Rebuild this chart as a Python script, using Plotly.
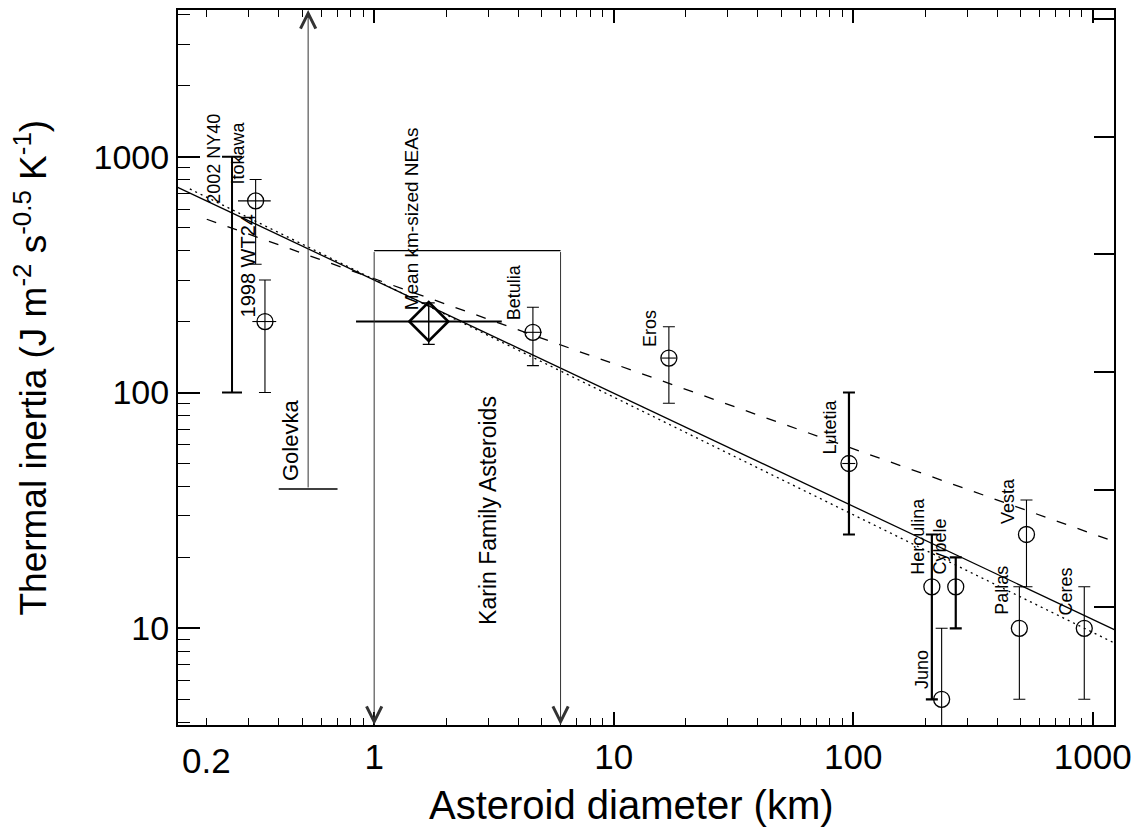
import math
import plotly.graph_objects as go

FONT = "Liberation Sans, Arial, Helvetica, sans-serif"

# ---------------- data ----------------
# asteroids plotted as open circles: diameter (km) and thermal inertia (J m^-2 s^-0.5 K^-1)
ast_names = ["Itokawa", "1998 WT24", "Betulia", "Eros", "Lutetia",
             "Herculina", "Cybele", "Juno", "Pallas", "Vesta", "Ceres"]
ast_diam = [0.32, 0.35, 4.6, 17.0, 96.0, 213.0, 268.0, 234.0, 494.0, 529.0, 922.0]
ast_diam_err = [0.05, 0.04, 0.4, 1.2, 6.0, 0, 0, 0, 0, 0, 0]
ast_gamma = [650, 200, 180, 140, 50, 15, 15, 5, 10, 25, 10]
ast_gamma_hi = [800, 300, 230, 190, 100, 25, 20, 10, 15, 35, 15]
ast_gamma_lo = [350, 100, 130, 90, 25, 5, 10, 0.1, 5, 15, 5]
ast_bold = [False, False, False, False, True, True, True, False, False, False, False]

# 2002 NY40: range only
ny40_diam = 0.255
ny40_range = [100, 1000]

# Golevka: lower limit
golevka_diam = 0.53
golevka_min = 39

# mean of km-sized NEAs
nea_diam, nea_diam_lo, nea_diam_hi = 1.69, 0.84, 3.41
nea_gamma, nea_gamma_lo, nea_gamma_hi = 200, 160, 240

# Karin family: diameter range and upper limit of thermal inertia
karin_diam = [1.0, 6.0]
karin_max = 400

# power-law fits (end points)
fit_solid_d, fit_solid_g = [0.15, 1250], [745, 9.8]
fit_dashed_d, fit_dashed_g = [0.2, 1250], [543, 23.2]
fit_dotted_d, fit_dotted_g = [0.17, 1250], [730, 8.6]

# axis ranges and tick labels
x_range = [0.1517, 1227]
y_range = [3.89, 4190]
x_tick_labels = ["1", "10", "100", "1000"]
y_tick_labels = ["10", "100", "1000"]

# label offsets (px) relative to each point, and font sizes
ast_label_shift = {
    "Itokawa": (-18, 48), "1998 WT24": (-17, 56), "Betulia": (-19, 40),
    "Eros": (-19, 30), "Lutetia": (-19, 37), "Herculina": (-14, 51),
    "Cybele": (-16, 40), "Juno": (-19, 30), "Pallas": (-17, 38),
    "Vesta": (-18, 34), "Ceres": (-18, 37),
}
ast_label_size = {"1998 WT24": 20}

lg = math.log10
fig = go.Figure()

# fit lines
fig.add_trace(go.Scatter(x=fit_solid_d, y=fit_solid_g, mode="lines",
                         line=dict(color="black", width=1.3), hoverinfo="skip"))
fig.add_trace(go.Scatter(x=fit_dashed_d, y=fit_dashed_g, mode="lines",
                         line=dict(color="black", width=1.3, dash="10px,12px"), hoverinfo="skip"))
fig.add_trace(go.Scatter(x=fit_dotted_d, y=fit_dotted_g, mode="lines",
                         line=dict(color="black", width=1.3, dash="2px,4px"), hoverinfo="skip"))

# circles with error bars (thin and thick bars as separate traces)
for bold in (False, True):
    idx = [i for i, b in enumerate(ast_bold) if b == bold]
    xs = [ast_diam[i] for i in idx]
    ys = [ast_gamma[i] for i in idx]
    fig.add_trace(go.Scatter(
        x=xs, y=ys, mode="markers",
        marker=dict(symbol="circle-open", size=16, color="black", line=dict(width=1.3)),
        error_y=dict(type="data", symmetric=False,
                     array=[ast_gamma_hi[i] - ast_gamma[i] for i in idx],
                     arrayminus=[ast_gamma[i] - ast_gamma_lo[i] for i in idx],
                     color="black", thickness=2.2 if bold else 1.1, width=6),
        error_x=dict(type="data", array=[ast_diam_err[i] for i in idx],
                     color="black", thickness=1.1, width=0),
        hoverinfo="skip"))

# 2002 NY40 range bar
ny40_mid = math.sqrt(ny40_range[0] * ny40_range[1])
fig.add_trace(go.Scatter(
    x=[ny40_diam], y=[ny40_mid], mode="markers", marker=dict(size=1, opacity=0),
    error_y=dict(type="data", symmetric=False, array=[ny40_range[1] - ny40_mid],
                 arrayminus=[ny40_mid - ny40_range[0]], color="black", thickness=2, width=10),
    hoverinfo="skip"))

# Golevka lower-limit cap
fig.add_trace(go.Scatter(
    x=[golevka_diam], y=[golevka_min], mode="markers",
    marker=dict(symbol="line-ew", size=42, line=dict(width=1.5, color="black")),
    hoverinfo="skip"))

# mean km-sized NEAs
fig.add_trace(go.Scatter(
    x=[nea_diam], y=[nea_gamma], mode="markers",
    marker=dict(symbol="diamond-open", size=30, color="black", line=dict(width=2.6)),
    error_y=dict(type="data", symmetric=False, array=[nea_gamma_hi - nea_gamma],
                 arrayminus=[nea_gamma - nea_gamma_lo], color="black", thickness=1.4, width=6),
    error_x=dict(type="data", symmetric=False, array=[nea_diam_hi - nea_diam],
                 arrayminus=[nea_diam - nea_diam_lo], color="black", thickness=2, width=0),
    hoverinfo="skip"))

# Karin family box top
fig.add_trace(go.Scatter(x=karin_diam, y=[karin_max, karin_max], mode="lines",
                         line=dict(color="black", width=1.3), hoverinfo="skip"))

# invisible trace that anchors the right-hand axis
fig.add_trace(go.Scatter(x=[1], y=[1], yaxis="y2", mode="markers",
                         marker=dict(opacity=0), hoverinfo="skip"))

annotations = []
# arrows: Karin range going down, Golevka going up
for d in karin_diam:
    annotations.append(dict(x=lg(d), y=lg(y_range[0]), ax=lg(d), ay=lg(karin_max),
                            xref="x", yref="y", axref="x", ayref="y", text="",
                            showarrow=True, arrowhead=5, arrowsize=3, arrowwidth=1,
                            arrowcolor="#333"))
annotations.append(dict(x=lg(golevka_diam), y=lg(y_range[1]), ax=lg(golevka_diam), ay=lg(golevka_min),
                        xref="x", yref="y", axref="x", ayref="y", text="",
                        showarrow=True, arrowhead=5, arrowsize=3, arrowwidth=1,
                        arrowcolor="#333"))

def label(text, x, y, dx, dy, size=18):
    annotations.append(dict(x=lg(x), y=lg(y), xref="x", yref="y", text=text,
                            textangle=-90, showarrow=False, xshift=dx, yshift=dy,
                            xanchor="center", yanchor="middle",
                            font=dict(family=FONT, size=size, color="black")))

for i, n in enumerate(ast_names):
    dx, dy = ast_label_shift[n]
    label(n, ast_diam[i], ast_gamma[i], dx, dy, ast_label_size.get(n, 18))
label("2002 NY40", ny40_diam, ny40_range[1], -18, -2)
label("Golevka", golevka_diam, golevka_min, -17, 48, 22)
label("Mean km-sized NEAs", nea_diam, nea_gamma, -17, 103, 19)
label("Karin Family Asteroids", math.sqrt(karin_diam[0] * karin_diam[1]), karin_max, 20, -260, 23)

# 0.2 tick label (sits on a minor tick)
annotations.append(dict(x=lg(0.2), y=0, xref="x", yref="paper", yanchor="top",
                        text="0.2", showarrow=False, yshift=-14,
                        font=dict(family=FONT, size=35, color="black")))

# axis titles
annotations.append(dict(x=(633 - 178) / 940, y=-0.112, xref="paper", yref="paper",
                        xanchor="center", yanchor="middle", showarrow=False,
                        text="Asteroid diameter (km)",
                        font=dict(family=FONT, size=40, color="black")))
annotations.append(dict(x=-0.157, y=0.5, xref="paper", yref="paper",
                        xanchor="center", yanchor="middle", showarrow=False, textangle=-90,
                        text="Thermal inertia (J m<sup>-2</sup> s<sup>-0.5</sup> K<sup>-1</sup>)",
                        font=dict(family=FONT, size=37, color="black")))

fig.update_layout(
    width=1140, height=827,
    margin=dict(l=178, r=22, t=8, b=102),
    paper_bgcolor="white", plot_bgcolor="white",
    showlegend=False,
    font=dict(family=FONT, color="black"),
    annotations=annotations,
    xaxis=dict(type="log", range=[lg(x_range[0]), lg(x_range[1])],
               tickmode="array", tickvals=[float(t) for t in x_tick_labels], ticktext=x_tick_labels,
               ticks="inside", ticklen=13, tickwidth=1.5, tickcolor="black",
               minor=dict(ticks="inside", ticklen=7, tickwidth=1.2, tickcolor="black",
                          dtick="D1", showgrid=False),
               showline=True, linecolor="black", linewidth=2, mirror="ticks",
               showgrid=False, zeroline=False,
               tickfont=dict(family=FONT, size=35)),
    yaxis=dict(type="log", range=[lg(y_range[0]), lg(y_range[1])],
               tickmode="array", tickvals=[float(t) for t in y_tick_labels], ticktext=y_tick_labels,
               ticks="inside", ticklen=22, tickwidth=1.5, tickcolor="black",
               minor=dict(ticks="inside", ticklen=12, tickwidth=1.2, tickcolor="black",
                          dtick="D1", showgrid=False),
               showline=True, linecolor="black", linewidth=2, mirror=False,
               showgrid=False, zeroline=False,
               tickfont=dict(family=FONT, size=34)),
    yaxis2=dict(overlaying="y", side="right", range=[0, 717 / 118],
                tickmode="array", tickvals=[1, 2, 3, 4, 5, 6],
                ticks="inside", ticklen=20, tickwidth=1.5, tickcolor="black",
                showticklabels=False, showline=True, linecolor="black", linewidth=2,
                showgrid=False, zeroline=False),
)

fig.write_html("out.html")
